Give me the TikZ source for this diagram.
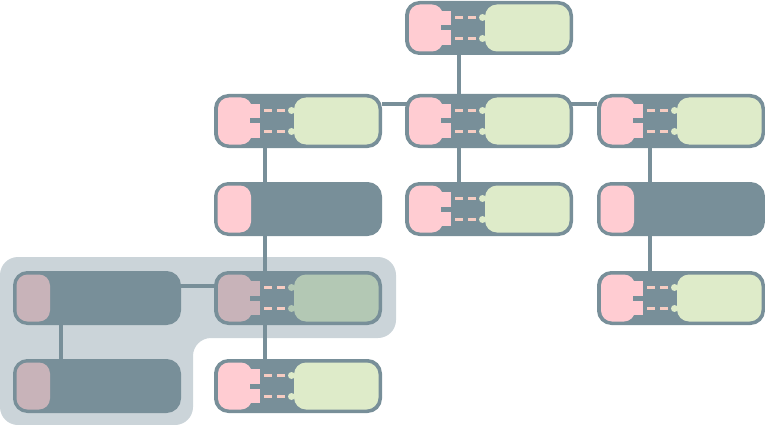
\documentclass[tikz,border=0pt]{standalone}
\usetikzlibrary{calc}
\definecolor{gry}{HTML}{788F99}
\definecolor{pnk}{HTML}{FFCCD2}
\definecolor{grn}{HTML}{DEEBC9}
\definecolor{dsh}{HTML}{F6CCC2}
\definecolor{hlc}{HTML}{CBD4D9}
\definecolor{dpnk}{HTML}{C8B3B9}
\definecolor{dgrn}{HTML}{B3C8B4}
\pgfdeclarelayer{hl}
\pgfdeclarelayer{bg}
\pgfsetlayers{hl,bg,main}
\tikzset{
  box/.style={draw=gry, fill=gry, line width=3pt, rounded corners=13pt,
    minimum width=165pt, minimum height=51pt, inner sep=0pt},
  conn/.style={draw=gry, line width=4pt},
  dashline/.style={draw=dsh, line width=3pt},
}
% node with green part: name, left, top, pink colour, green colour
\newcommand\pairnode[5]{%
\begin{scope}[shift={(#2,#3)}]
\node[box] (#1) at (84,27) {};
\fill[#4, rounded corners=11pt] (4,3.5) rectangle (38,50.5);
\fill[#4] (30,10) rectangle (46,44);
\fill[gry] (36,24.5) rectangle (47,29.5);
\draw[dashline] (50,16.5) -- (57.5,16.5) (63,16.5) -- (70.5,16.5);
\draw[dashline] (50,37.5) -- (57.5,37.5) (63,37.5) -- (70.5,37.5);
\fill[#5] (77.5,16.5) circle (3.5);
\fill[#5] (77.5,37.5) circle (3.5);
\fill[#5, rounded corners=12pt] (80,3.5) rectangle (164.5,50.5);
\end{scope}}
% node without green part: name, left, top, pink colour
\newcommand\solonode[4]{%
\begin{scope}[shift={(#2,#3)}]
\node[box] (#1) at (84,27) {};
\fill[#4, rounded corners=11pt] (3.5,3.5) rectangle (37,50.5);
\end{scope}}
\begin{document}
\begin{tikzpicture}[x=1pt,y=-1pt]
\useasboundingbox (0,0) rectangle (765,425);
% nodes
\pairnode{r1c2}{405}{1}{pnk}{grn}
\pairnode{r2c1}{214}{94}{pnk}{grn}
\pairnode{r2c2}{405}{94}{pnk}{grn}
\pairnode{r2c3}{597}{94}{pnk}{grn}
\solonode{r3c1}{214}{182}{pnk}
\pairnode{r3c2}{405}{182}{pnk}{grn}
\solonode{r3c3}{597}{182}{pnk}
\solonode{r4c0}{13}{271}{dpnk}
\pairnode{r4c1}{214}{271}{dpnk}{dgrn}
\pairnode{r4c3}{597}{271}{pnk}{grn}
\solonode{r5c0}{13}{359}{dpnk}
\pairnode{r5c1}{214}{359}{pnk}{grn}
% connectors
\begin{pgfonlayer}{bg}
\draw[conn] ([xshift=54pt]r1c2.south west) -- ([xshift=54pt]r3c2.north west);
\draw[conn] ([xshift=51pt]r2c1.south west) -- ([xshift=51pt]r5c1.north west);
\draw[conn] ([xshift=53pt]r2c3.south west) -- ([xshift=53pt]r4c3.north west);
\draw[conn] ([xshift=48pt]r4c0.south west) -- ([xshift=48pt]r5c0.north west);
\draw[conn] ([yshift=-10.5pt]r2c1.north east) -- ([yshift=-10.5pt]r2c3.north west);
\draw[conn] ([yshift=-15pt]r4c0.north east) -- ([yshift=-15pt]r4c1.north west);
\end{pgfonlayer}
% highlight region
\begin{pgfonlayer}{hl}
\fill[hlc, rounded corners=18pt] (0,425) -- (0,257) -- (396,257) -- (396,338) -- (193,338) -- (193,425) -- cycle;
\end{pgfonlayer}
\end{tikzpicture}
\end{document}
